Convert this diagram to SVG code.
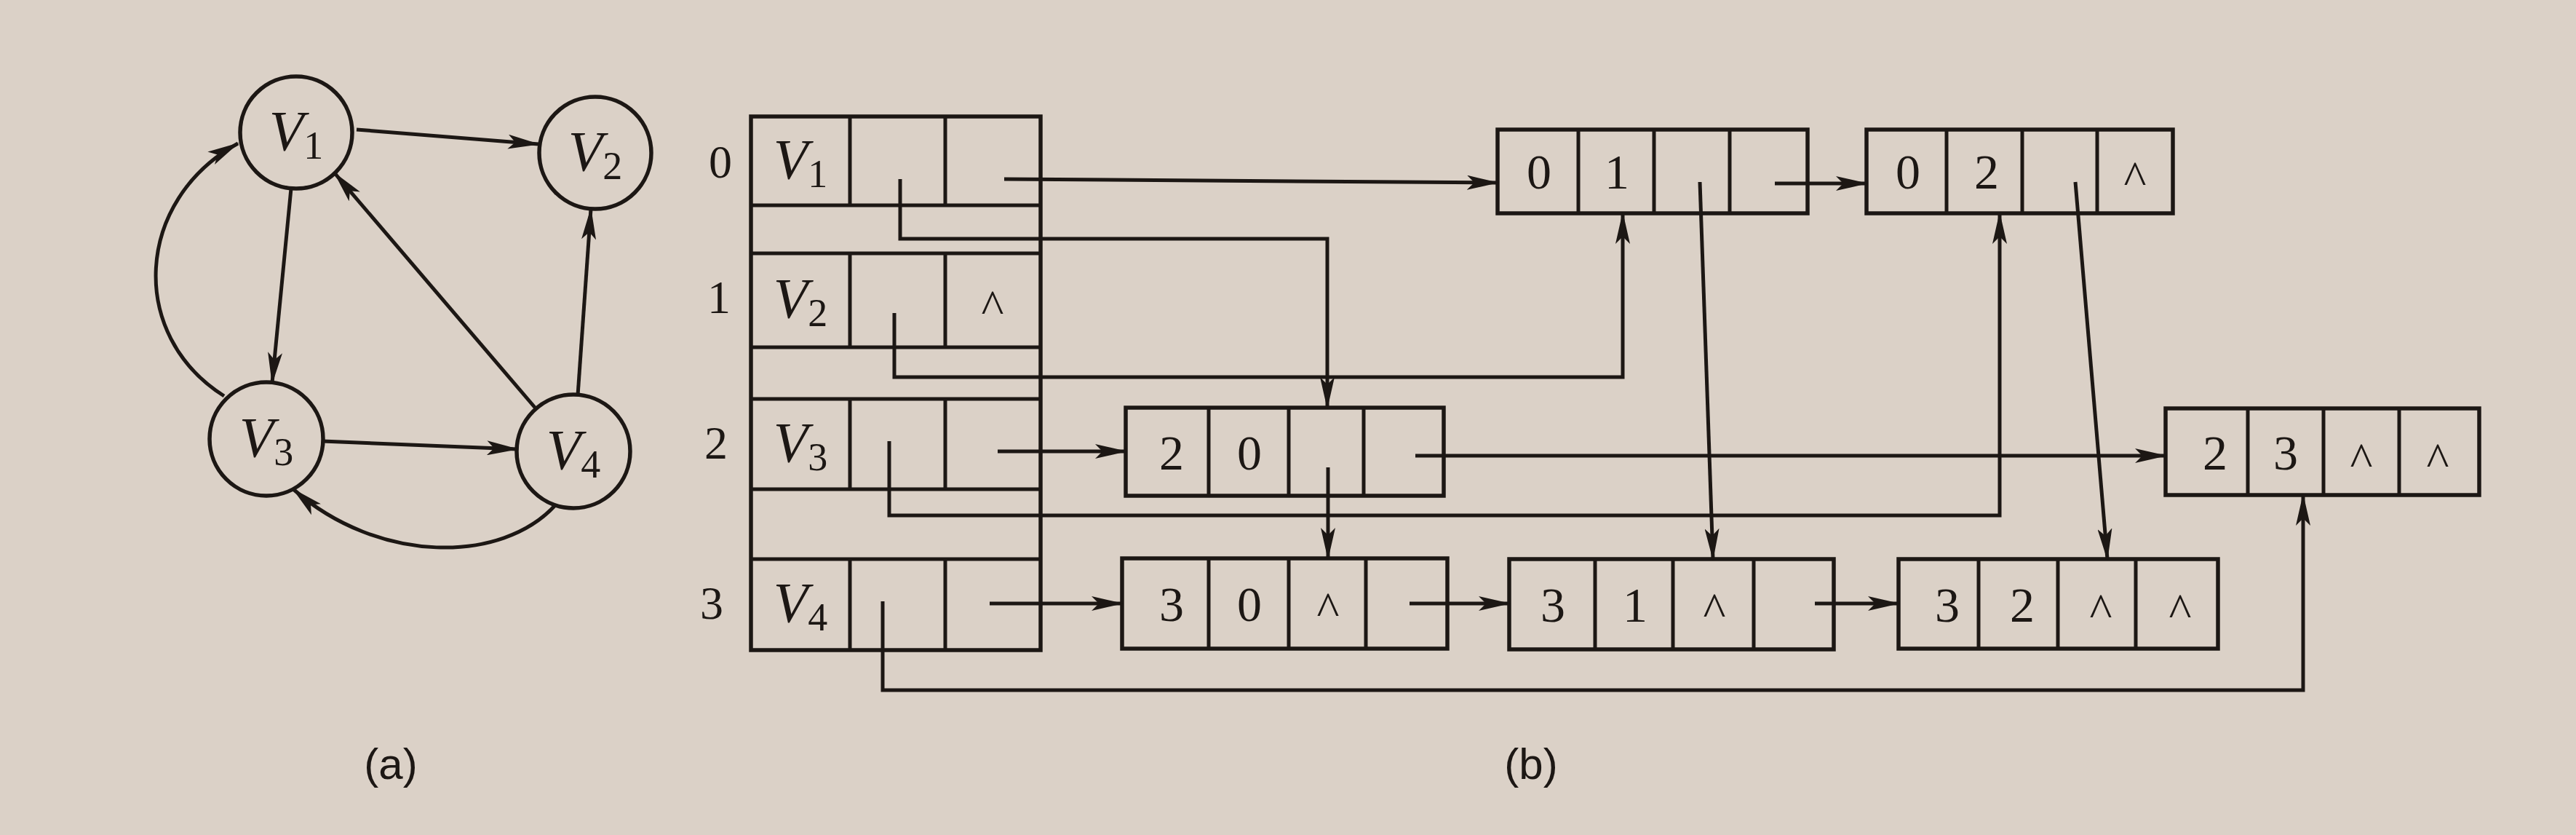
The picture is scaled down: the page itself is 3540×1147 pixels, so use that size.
<svg xmlns="http://www.w3.org/2000/svg" width="3540" height="1147" viewBox="0 0 3540 1147">
<defs>
<style>
.ln{fill:none;stroke:#1c1714;stroke-width:5}
.bx{fill:none;stroke:#1c1714;stroke-width:5.5}
.cn{fill:none;stroke:#1c1714;stroke-width:5}
.ar{marker-end:url(#ah)}
.t{font-family:"Liberation Serif","Times New Roman",serif;font-size:68px;fill:#1c1714;text-anchor:middle}
.c{font-family:"Liberation Serif","Times New Roman",serif;font-size:66px;fill:#1c1714;text-anchor:middle}
.v{font-family:"Liberation Serif","Times New Roman",serif;font-size:78px;fill:#1c1714;text-anchor:middle}
.i{font-style:italic}
.s{font-size:54px}
.cap{font-family:"Liberation Serif","Times New Roman",serif;font-size:64px;fill:#1c1714;text-anchor:middle}
.lab{font-family:"Liberation Sans",Arial,sans-serif;font-size:60px;fill:#1c1714;text-anchor:middle}
</style>
<marker id="ah" markerWidth="44" markerHeight="20" refX="42" refY="10" orient="auto" markerUnits="userSpaceOnUse">
<path d="M0,0 L44,10 L0,20 L10,10 z" fill="#1c1714"/>
</marker>
</defs>
<rect x="0" y="0" width="3540" height="1147" fill="#dbd1c7"/>

<!-- (a) graph -->
<g id="a-V1"><circle class="bx" cx="407" cy="182" r="77"/><text class="v" x="407" y="206"><tspan class="i">V</tspan><tspan class="s" dy="12">1</tspan></text></g>
<g id="a-V2"><circle class="bx" cx="818" cy="210" r="77"/><text class="v" x="818" y="234"><tspan class="i">V</tspan><tspan class="s" dy="12">2</tspan></text></g>
<g id="a-V3"><circle class="bx" cx="366" cy="603" r="78"/><text class="v" x="366" y="627"><tspan class="i">V</tspan><tspan class="s" dy="12">3</tspan></text></g>
<g id="a-V4"><circle class="bx" cx="788" cy="620" r="78"/><text class="v" x="788" y="644"><tspan class="i">V</tspan><tspan class="s" dy="12">4</tspan></text></g>
<g id="a-edges">
<path class="cn ar" d="M490,178 L740,198"/>
<path class="cn ar" d="M400,259 L374,526"/>
<path class="cn ar" d="M737,562 L460,238"/>
<path class="cn ar" d="M794,543 L812,287"/>
<path class="cn ar" d="M443,606 L711,617"/>
<path class="cn ar" d="M308,544 C175,460 185,275 327,197"/>
<path class="cn ar" d="M764,693 C690,775 520,775 403,672"/>
</g>
<text class="lab" x="537" y="1070">(a)</text>

<!-- (b) head table -->
<g id="head">
<rect class="bx" x="1032" y="160" width="398" height="733"/>
<path class="ln" d="M1032,282 H1430 M1032,348 H1430 M1032,477 H1430 M1032,548 H1430 M1032,672 H1430 M1032,768 H1430"/>
<path class="ln" d="M1168,160 V282 M1299,160 V282 M1168,348 V477 M1299,348 V477 M1168,548 V672 M1299,548 V672 M1168,768 V893 M1299,768 V893"/>
<text class="v" x="1100" y="245"><tspan class="i">V</tspan><tspan class="s" dy="12">1</tspan></text>
<text class="v" x="1100" y="436"><tspan class="i">V</tspan><tspan class="s" dy="12">2</tspan></text>
<text class="v" x="1100" y="634"><tspan class="i">V</tspan><tspan class="s" dy="12">3</tspan></text>
<text class="v" x="1100" y="854"><tspan class="i">V</tspan><tspan class="s" dy="12">4</tspan></text>
<text class="c" x="1364" y="444">^</text>
<text class="cap" x="990" y="244">0</text>
<text class="cap" x="988" y="430">1</text>
<text class="cap" x="984" y="630">2</text>
<text class="cap" x="978" y="850">3</text>
</g>

<!-- edge nodes -->
<g id="n01"><rect class="bx" x="2058" y="178" width="426" height="115"/><path class="ln" d="M2169,178 V293 M2273,178 V293 M2377,178 V293"/><text class="t" x="2115" y="259">0</text><text class="t" x="2222" y="259">1</text></g>
<g id="n02"><rect class="bx" x="2565" y="178" width="421" height="115"/><path class="ln" d="M2675,178 V293 M2779,178 V293 M2882,178 V293"/><text class="t" x="2622" y="259">0</text><text class="t" x="2730" y="259">2</text><text class="c" x="2934" y="267">^</text></g>
<g id="n20"><rect class="bx" x="1547" y="560" width="437" height="121"/><path class="ln" d="M1661,560 V681 M1771,560 V681 M1874,560 V681"/><text class="t" x="1610" y="645">2</text><text class="t" x="1717" y="645">0</text></g>
<g id="n23"><rect class="bx" x="2976" y="561" width="431" height="119"/><path class="ln" d="M3089,561 V680 M3193,561 V680 M3297,561 V680"/><text class="t" x="3044" y="645">2</text><text class="t" x="3141" y="645">3</text><text class="c" x="3245" y="654">^</text><text class="c" x="3350" y="654">^</text></g>
<g id="n30"><rect class="bx" x="1542" y="767" width="447" height="124"/><path class="ln" d="M1661,767 V891 M1771,767 V891 M1877,767 V891"/><text class="t" x="1610" y="853">3</text><text class="t" x="1717" y="853">0</text><text class="c" x="1825" y="859">^</text></g>
<g id="n31"><rect class="bx" x="2074" y="768" width="446" height="124"/><path class="ln" d="M2192,768 V892 M2299,768 V892 M2410,768 V892"/><text class="t" x="2134" y="854">3</text><text class="t" x="2247" y="854">1</text><text class="c" x="2356" y="860">^</text></g>
<g id="n32"><rect class="bx" x="2609" y="768" width="439" height="123"/><path class="ln" d="M2719,768 V891 M2828,768 V891 M2935,768 V891"/><text class="t" x="2676" y="854">3</text><text class="t" x="2779" y="854">2</text><text class="c" x="2887" y="861">^</text><text class="c" x="2996" y="861">^</text></g>

<!-- connectors -->
<g id="connectors">
<path class="cn ar" d="M1380,246 L2058,251"/>
<path class="cn ar" d="M1237,246 V328 H1824 V560"/>
<path class="cn ar" d="M1229,430 V518 H2230 V293"/>
<path class="cn ar" d="M1371,620 H1547"/>
<path class="cn ar" d="M1222,606 V708 H2748 V293"/>
<path class="cn ar" d="M1360,829 H1542"/>
<path class="cn ar" d="M1213,826 V948 H3165 V680"/>
<path class="cn ar" d="M2336,250 L2354,768"/>
<path class="cn ar" d="M2439,252 H2565"/>
<path class="cn ar" d="M1825,642 V767"/>
<path class="cn ar" d="M1945,626 H2976"/>
<path class="cn ar" d="M1937,829 H2074"/>
<path class="cn ar" d="M2494,829 H2609"/>
<path class="cn ar" d="M2852,250 L2896,768"/>
</g>
<text class="lab" x="2104" y="1070">(b)</text>
</svg>
